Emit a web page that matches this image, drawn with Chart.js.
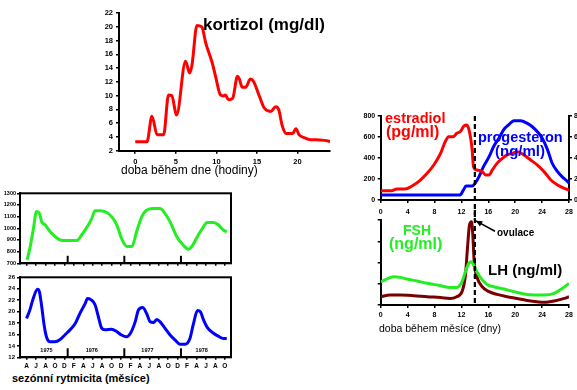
<!DOCTYPE html>
<html><head><meta charset="utf-8">
<script src="https://cdn.jsdelivr.net/npm/chart.js@4.4.1/dist/chart.umd.min.js"></script>
<style>
html,body{margin:0;padding:0;width:577px;height:390px;overflow:hidden;background:#fff;font-family:"Liberation Sans",Arial,sans-serif}
canvas{position:absolute}
.t{position:absolute;white-space:nowrap;line-height:1;font-weight:bold}
</style></head><body>
<canvas id="cA" width="260" height="180" style="left:80px;top:0px"></canvas>
<canvas id="cB" width="240" height="85" style="left:0px;top:185px"></canvas>
<canvas id="cC" width="240" height="102" style="left:0px;top:270px"></canvas>
<canvas id="cD" width="260" height="113" style="left:340px;top:105px"></canvas>
<canvas id="cE" width="237" height="112" style="left:340px;top:210px"></canvas>

<div class="t" style="left:203px;top:15.6px;font-size:17px;color:#000">kortizol (mg/dl)</div>
<div class="t" style="left:121px;top:164px;font-size:12px;font-weight:normal">doba během dne (hodiny)</div>
<div class="t" style="left:12px;top:373px;font-size:11px">sezónní rytmicita (měsíce)</div>
<div class="t" style="left:385px;top:111px;font-size:14.5px;color:#ff0000">estradiol</div>
<div class="t" style="left:386px;top:123.5px;font-size:16px;color:#ff0000">(pg/ml)</div>
<div class="t" style="left:478px;top:130.4px;font-size:14.5px;color:#0000ff">progesteron</div>
<div class="t" style="left:495px;top:143.3px;font-size:15px;color:#0000ff">(ng/ml)</div>
<div class="t" style="left:403px;top:223.2px;font-size:14px;color:#22ee22">FSH</div>
<div class="t" style="left:389px;top:235.8px;font-size:16px;color:#22ee22">(ng/ml)</div>
<div class="t" style="left:488px;top:262.3px;font-size:15px;color:#000">LH (ng/ml)</div>
<div class="t" style="left:497px;top:228px;font-size:10px;color:#000">ovulace</div>
<div class="t" style="left:379px;top:323.4px;font-size:10.5px;font-weight:normal">doba během měsíce (dny)</div>

<script>
// ---------- data ----------
const cortisolHours  = [0,1.45,2.06,2.7,3.5,4.1,4.5,5.1,6.2,6.7,7.0,7.6,8.2,8.7,9.5,9.9,10.5,10.9,11.1,11.5,12,12.6,12.8,13.2,13.6,14.2,14.6,15.3,15.9,16.7,17.3,17.7,18.1,18.6,19.4,19.8,20.2,20.8,21.6,22.3,23.3,24.2];
const cortisolValues = [3.3,3.3,7.0,4.3,4.3,10.1,10.0,7.2,15.0,13.3,14.5,20.2,20.0,17.6,14.7,12.8,10.1,9.95,10.1,9.4,9.6,12.8,12.5,11.2,11.2,12.4,12.0,9.9,8.2,7.7,8.4,7.9,5.7,4.5,4.5,5.2,4.3,3.9,3.6,3.6,3.5,3.3];
const cortisolYTicks = [2,4,6,8,10,12,14,16,18,20,22];
const cortisolXTicks = [0,5,10,15,20];

const greenMonths = [0.1,0.7,1.4,2.1,2.7,3.2,3.9,5,6,7.1,8.5,10.6,11.7,13.1,13.8,14.5,15.6,17,18,19.1,20.1,21.2,22.3,23.3,24.4,25.4,26.9,28.3,29,30.4,31.8,33.2,34.3,35,36.4,37.5,38.2,39.6,40.6,41.7,42.4];
const greenValues = [730,830,985,1145,1130,1055,1030,970,930,900,895,895,945,1030,1085,1150,1150,1135,1100,1030,915,845,845,970,1100,1155,1170,1170,1145,1055,930,855,820,845,945,1015,1050,1050,1030,985,970];
const greenYTicks = [700,800,900,1000,1100,1200,1300];

const blueMonths = [0,0.7,1.4,2.3,2.7,3.2,3.7,4.2,5,6,7.1,8.1,9.2,10.3,11.3,12.4,12.9,13.6,14.5,15.2,15.9,16.6,18,19.1,20.1,21.2,22,23,23.7,24.6,25.4,26.2,26.9,27.6,28.3,29.3,30.4,31.5,32.5,33.6,34.6,35.3,36.2,36.8,37.5,38.3,39.6,40.6,41.7,42.4];
const blueValues = [18.8,20.3,22.3,23.9,23.5,20.9,17.7,15.6,14.7,14.7,15.1,15.9,16.8,17.9,19.7,21.4,22.3,22.1,21.2,19.1,17.1,16.8,16.9,16.5,15.9,15.6,16.2,18.2,20.3,20.7,19.7,18.2,18.1,18.6,18.2,17.1,15.9,15.0,14.3,14.3,15.3,17.7,20.2,20.0,18.5,17.2,16.2,15.7,15.3,15.3];
const blueYTicks = [12,14,16,18,20,22,24,26];

const monthTickPos = [0,2,4,6,8,10,12,14,16,18,20,22,24,26,28,30,32,34,36,38,40,42];
const monthLabels = ['A','J','A','O','D','F','A','J','A','O','D','F','A','J','A','O','D','F','A','J','A','O'];
const yearLabels = ['1975','1976','1977','1978'];
const yearLabelPos = [4.2,13.8,25.6,37.1];
const yearBreaks = [8.7,20.7,32.7];

const estradiolDays = [0,1.6,2.4,3.6,4.9,5.9,6.9,7.9,8.9,9.6,10.1,10.8,11.3,11.8,12.4,12.8,13.2,13.6,13.8,14.3,15.1,15.6,16.1,16.6,17.3,18.1,18.8,19.6,20.3,21.3,22.3,23.3,24.3,25.3,26.3,27.3,28];
const estradiolValues = [89,89,105,105,143,190,254,333,444,556,603,603,635,650,705,714,650,476,317,286,270,238,238,286,349,397,429,444,460,429,381,333,270,190,143,111,95];
const progesteroneDays = [0,11.8,12.3,12.7,13.6,14.1,14.6,15.3,16.1,16.8,17.6,18.3,19.1,19.8,20.8,21.8,22.5,23.3,24,24.8,25.5,26.3,27,27.8,28];
const progesteroneValues = [0.48,0.48,0.95,1.33,1.33,1.65,2.2,3.2,4.1,5.1,5.9,6.7,7.2,7.55,7.55,7.3,7.0,6.5,5.9,4.8,3.5,2.7,2.2,1.75,1.6];
const fshDays = [0,0.9,1.9,2.9,3.9,5.4,6.9,8.9,10.3,11.3,12.1,12.6,13.1,13.5,13.8,14.3,15.1,15.8,16.8,18.3,19.8,21.3,22.8,24.3,25.8,27,28];
const fshValues = [1.1,1.22,1.33,1.3,1.22,1.13,1.02,0.91,0.82,0.82,1.1,1.57,1.96,2.04,1.88,1.57,1.18,0.97,0.86,0.75,0.63,0.52,0.47,0.47,0.55,0.78,1.02];
const lhDays = [0,1.4,2.9,4.9,6.9,8.9,10.3,11.3,12.1,12.6,12.9,13.2,13.5,13.7,13.9,14.3,15.1,16.1,17.3,18.8,20.3,22.3,24.3,25.8,27.3,28];
const lhValues = [0.39,0.47,0.47,0.44,0.39,0.35,0.31,0.39,0.63,1.41,2.67,3.76,3.92,3.29,2.04,1.33,0.86,0.63,0.5,0.39,0.31,0.19,0.13,0.19,0.31,0.39];
const cycleXTicks = [0,4,8,12,16,20,24,28];
const estradiolTicks = [0,200,400,600,800];
const progesteroneTicks = [0,2,4,6,8];
const gonadotropinTicks = [0,1,2,3,4];
const ovulationDay = 14;

// ---------- helpers ----------
const RED='#ff0000', GREEN='#22ee22', BLUE='#0000ff', MAROON='#7a0000';
Chart.defaults.font.family='"Liberation Sans", Arial, sans-serif';
Chart.defaults.color='#000';

function fixW(w){return s=>{s.width=w;s.paddingTop=0;s.paddingBottom=0;s.paddingLeft=0;s.paddingRight=0;};}
function fixH(h){return s=>{s.height=h;s.paddingTop=0;s.paddingBottom=0;s.paddingLeft=0;s.paddingRight=0;};}
function ax(o){
  return {
    type:'linear', position:o.pos, min:o.min, max:o.max,
    afterBuildTicks:s=>{s.ticks=o.ticks.map(v=>({value:v}));},
    afterFit:o.w!=null?fixW(o.w):fixH(o.h),
    border:{display:true,color:'#000',width:2},
    grid:{display:true,drawOnChartArea:false,drawTicks:true,tickLength:o.tl??3,color:'#000',lineWidth:1.5},
    ticks:{display:o.show!==false,padding:o.pad??3,font:{size:o.fs??7,weight:'bold'},color:'#000',
      autoSkip:false,maxRotation:0,minRotation:0,callback:o.cb||(v=>String(v))}
  };
}
function ds(xs,ys,color,yid,w){
  return {data:xs.map((x,i)=>({x:x,y:ys[i]})),borderColor:color,backgroundColor:color,borderWidth:w??3,
    pointRadius:0,fill:false,cubicInterpolationMode:'monotone',yAxisID:yid||'y'};
}
function base(pad,scales,plugins){
  return {responsive:false,animation:false,devicePixelRatio:1,events:[],
    layout:{padding:pad},scales:scales,
    plugins:Object.assign({legend:{display:false},tooltip:{enabled:false},title:{display:false}},plugins||{})};
}

const boxPlugin={id:'box',afterDatasetsDraw(chart,a,o){
  if(!o||!o.on)return;const c=chart.ctx,r=chart.chartArea;
  c.save();c.strokeStyle='#000';c.lineWidth=2;c.strokeRect(r.left,r.top,r.right-r.left,r.bottom-r.top);c.restore();}};
const yearPlugin={id:'years',afterDatasetsDraw(chart,a,o){
  if(!o||!o.breaks)return;const c=chart.ctx,r=chart.chartArea,x=chart.scales.x,y=chart.scales.y;
  c.save();c.strokeStyle='#000';c.lineWidth=2;
  o.breaks.forEach(b=>{const px=x.getPixelForValue(b);c.beginPath();c.moveTo(px,r.bottom);c.lineTo(px,r.bottom-o.len);c.stroke();});
  if(o.labels){c.fillStyle='#000';c.font='bold 5.5px "Liberation Sans", Arial';c.textAlign='center';c.textBaseline='middle';
    o.labels.forEach((t,i)=>c.fillText(t,x.getPixelForValue(o.pos[i]),y.getPixelForValue(o.yval)));}
  c.restore();}};
const ovuPlugin={id:'ovu',afterDatasetsDraw(chart,a,o){
  if(!o||o.day==null)return;const c=chart.ctx,r=chart.chartArea,x=chart.scales.x,y=chart.scales.y;
  const px=x.getPixelForValue(o.day);
  c.save();c.strokeStyle='#000';c.lineWidth=2.2;c.setLineDash([5,3]);c.beginPath();
  c.moveTo(px,o.fromCanvasTop?0:r.top);c.lineTo(px,o.toCanvasBottom?chart.height:r.bottom);c.stroke();
  if(o.arrow){
    c.setLineDash([]);c.lineWidth=1.5;
    const x0=x.getPixelForValue(o.arrow[0]),y0=y.getPixelForValue(o.arrow[1]);
    const x1=x.getPixelForValue(o.arrow[2]),y1=y.getPixelForValue(o.arrow[3]);
    c.beginPath();c.moveTo(x0,y0);c.lineTo(x1,y1);c.stroke();
    const ang=Math.atan2(y1-y0,x1-x0),L=7,W=0.45;
    c.fillStyle='#000';c.beginPath();c.moveTo(x0,y0);
    c.lineTo(x0+L*Math.cos(ang-W),y0+L*Math.sin(ang-W));
    c.lineTo(x0+L*Math.cos(ang+W),y0+L*Math.sin(ang+W));c.closePath();c.fill();
  }
  c.restore();}};
Chart.register(boxPlugin,yearPlugin,ovuPlugin);

// ---------- A: kortizol ----------
new Chart(document.getElementById('cA'),{type:'line',
  data:{datasets:[ds(cortisolHours,cortisolValues,RED)]},
  options:base({top:13,right:10,left:0,bottom:0},{
    x:ax({pos:'bottom',min:-2,max:24,ticks:cortisolXTicks,h:29.3,pad:4,fs:7.5}),
    y:ax({pos:'left',min:2,max:22,ticks:cortisolYTicks,w:39,pad:3,fs:7.5})
  })});

// ---------- B: seasonal green ----------
new Chart(document.getElementById('cB'),{type:'line',
  data:{datasets:[ds(greenMonths,greenValues,GREEN)]},
  options:base({top:8.3,right:9,left:0,bottom:0},{
    x:ax({pos:'bottom',min:-1.4,max:43.3,ticks:monthTickPos,h:6.7,show:false,tl:2.5}),
    y:ax({pos:'left',min:700,max:1300,ticks:greenYTicks,w:20,pad:1,fs:5.5,tl:3})
  },{box:{on:true},years:{breaks:yearBreaks,len:7.5}})});

// ---------- C: seasonal blue ----------
new Chart(document.getElementById('cC'),{type:'line',
  data:{datasets:[ds(blueMonths,blueValues,BLUE)]},
  options:base({top:7.3,right:9,left:0,bottom:0},{
    x:ax({pos:'bottom',min:-1.4,max:43.3,ticks:monthTickPos,h:14.7,pad:2.5,fs:6.5,tl:2.5,cb:(v,i)=>monthLabels[i]}),
    y:ax({pos:'left',min:12,max:26,ticks:blueYTicks,w:20,pad:2,fs:6,tl:3})
  },{box:{on:true},years:{breaks:yearBreaks,len:9,labels:yearLabels,pos:yearLabelPos,yval:13.2}})});

// ---------- D: estradiol / progesteron ----------
new Chart(document.getElementById('cD'),{type:'line',
  data:{datasets:[ds(estradiolDays,estradiolValues,RED,'y'),ds(progesteroneDays,progesteroneValues,BLUE,'y1')]},
  options:base({top:11,right:0,left:0,bottom:0},{
    x:ax({pos:'bottom',min:0,max:28,ticks:cycleXTicks,h:18,pad:4.5,fs:7}),
    y:ax({pos:'left',min:0,max:800,ticks:estradiolTicks,w:40.7,pad:2.5,fs:7}),
    y1:ax({pos:'right',min:0,max:8,ticks:progesteroneTicks,w:31,pad:2,fs:7})
  },{ovu:{day:ovulationDay,toCanvasBottom:true}})});

// ---------- E: FSH / LH ----------
new Chart(document.getElementById('cE'),{type:'line',
  data:{datasets:[ds(fshDays,fshValues,GREEN),ds(lhDays,lhValues,MAROON)]},
  options:base({top:10,right:8,left:0,bottom:0},{
    x:ax({pos:'bottom',min:0,max:28,ticks:cycleXTicks,h:17,pad:3,fs:7}),
    y:ax({pos:'left',min:0,max:4,ticks:gonadotropinTicks,w:40.7,show:false,tl:3})
  },{ovu:{day:ovulationDay,fromCanvasTop:true,arrow:[14.15,3.96,17.0,3.47]}})});
</script>
</body></html>
